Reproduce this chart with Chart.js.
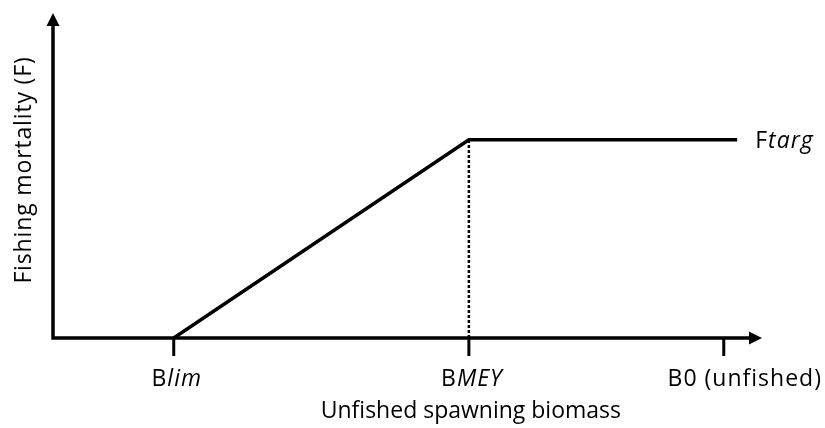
<!DOCTYPE html>
<html>
<head>
<meta charset="utf-8">
<title>Harvest control rule</title>
<script src="https://cdn.jsdelivr.net/npm/chart.js@4.4.1/dist/chart.umd.min.js"></script>
<style>
    html, body { margin: 0; padding: 0; background: #ffffff; }
    #wrap { width: 825px; height: 428px; position: relative; }
</style>
</head>
<body>
<div id="wrap"><canvas id="hcr"></canvas></div>
<script>
/* =========================
   DATOS
========================= */
// reference points on the biomass axis (B0 = 1)
const refPoints = [0.18, 0.62, 1.0];
const refLabels = [["B", "lim"], ["B", "MEY"], ["B0 (unfished)", ""]];

// harvest control rule line
const ruleX = [0.18, 0.62, 1.02];
const ruleF = [0, 0.61, 0.61];
const targetLabel = ["F", "targ"];

const xTitle = "Unfished spawning biomass";
const yTitle = "Fishing mortality (F)";

/* =========================
   ESTILO
========================= */
const FONT = "'Open Sans', 'Noto Sans', sans-serif";
const SIZE = 23;
const INK = "#000000";
const labelShift = [3, 3, 21];

// text with an upright part and an italic part
function mixedText(ctx, parts, x, y, align) {
    ctx.letterSpacing = "1px";
    ctx.font = SIZE + "px " + FONT;
    const w1 = ctx.measureText(parts[0]).width;
    ctx.font = "italic " + SIZE + "px " + FONT;
    const w2 = ctx.measureText(parts[1]).width;
    let start = x;
    if (align === "center") start = x - (w1 + w2) / 2;
    ctx.textAlign = "left";
    ctx.font = SIZE + "px " + FONT;
    ctx.fillText(parts[0], start, y);
    ctx.font = "italic " + SIZE + "px " + FONT;
    ctx.fillText(parts[1], start + w1, y);
    ctx.letterSpacing = "0px";
}

/* =========================
   EJES CON FLECHAS
========================= */
const axesPlugin = {
    id: "axesPlugin",
    beforeDatasetsDraw(chart) {
        const ctx = chart.ctx;
        const xs = chart.scales.x;
        const ys = chart.scales.y;
        const x0 = xs.getPixelForValue(0);
        const y0 = ys.getPixelForValue(0);
        const xEnd = xs.right;
        const yEnd = ys.top;

        ctx.save();
        ctx.strokeStyle = INK;
        ctx.fillStyle = INK;
        ctx.lineWidth = 3.5;
        ctx.lineCap = "butt";

        // axis lines
        ctx.beginPath();
        ctx.moveTo(x0, yEnd + 10);
        ctx.lineTo(x0, y0);
        ctx.lineTo(xEnd - 10, y0);
        ctx.stroke();

        // arrowheads
        ctx.beginPath();
        ctx.moveTo(x0, yEnd);
        ctx.lineTo(x0 - 6.5, yEnd + 13);
        ctx.lineTo(x0 + 6.5, yEnd + 13);
        ctx.closePath();
        ctx.fill();

        ctx.beginPath();
        ctx.moveTo(xEnd, y0);
        ctx.lineTo(xEnd - 13, y0 - 6.5);
        ctx.lineTo(xEnd - 13, y0 + 6.5);
        ctx.closePath();
        ctx.fill();

        // tick marks
        ctx.lineWidth = 3;
        refPoints.forEach(v => {
            const px = xs.getPixelForValue(v);
            ctx.beginPath();
            ctx.moveTo(px, y0);
            ctx.lineTo(px, y0 + 18);
            ctx.stroke();
        });
        ctx.restore();
    },
    afterDatasetsDraw(chart) {
        const ctx = chart.ctx;
        const xs = chart.scales.x;
        const ys = chart.scales.y;
        const y0 = ys.getPixelForValue(0);

        ctx.save();
        ctx.fillStyle = INK;
        ctx.textBaseline = "alphabetic";

        // tick labels
        refPoints.forEach((v, i) => {
            mixedText(ctx, refLabels[i], xs.getPixelForValue(v) + labelShift[i], y0 + 48, "center");
        });

        // target label at end of the line
        const last = ruleX.length - 1;
        mixedText(ctx, targetLabel,
            xs.getPixelForValue(ruleX[last]) + 18,
            ys.getPixelForValue(ruleF[last]) + 8, "left");

        // axis titles
        ctx.font = SIZE + "px " + FONT;
        ctx.textAlign = "center";
        ctx.fillText(xTitle, xs.getPixelForValue(refPoints[1]) + 2, y0 + 80);

        ctx.letterSpacing = "0.85px";
        ctx.translate(31, 170);
        ctx.rotate(-Math.PI / 2);
        ctx.fillText(yTitle, 0, 0);
        ctx.restore();
    }
};

/* =========================
   GRÁFICO
========================= */
new Chart(document.getElementById("hcr"), {
    type: "scatter",
    data: {
        datasets: [{
            label: "Regla",
            data: ruleX.map((x, i) => ({ x: x, y: ruleF[i] })),
            showLine: true,
            borderColor: INK,
            borderWidth: 3.5,
            pointRadius: 0,
            tension: 0
        }, {
            label: "BMEY",
            data: [{ x: refPoints[1], y: 0 }, { x: refPoints[1], y: ruleF[1] }],
            showLine: true,
            borderColor: INK,
            borderWidth: 2.5,
            borderDash: [3, 2],
            pointRadius: 0
        }]
    },
    options: {
        responsive: true,
        maintainAspectRatio: false,
        animation: false,
        layout: {
            padding: { left: 53, top: 13, right: 63, bottom: 90 }
        },
        scales: {
            x: { type: "linear", min: 0, max: 1.057, display: false },
            y: { type: "linear", min: 0, max: 1, display: false }
        },
        plugins: {
            legend: { display: false },
            tooltip: { enabled: false }
        }
    },
    plugins: [axesPlugin]
});
</script>
</body>
</html>
